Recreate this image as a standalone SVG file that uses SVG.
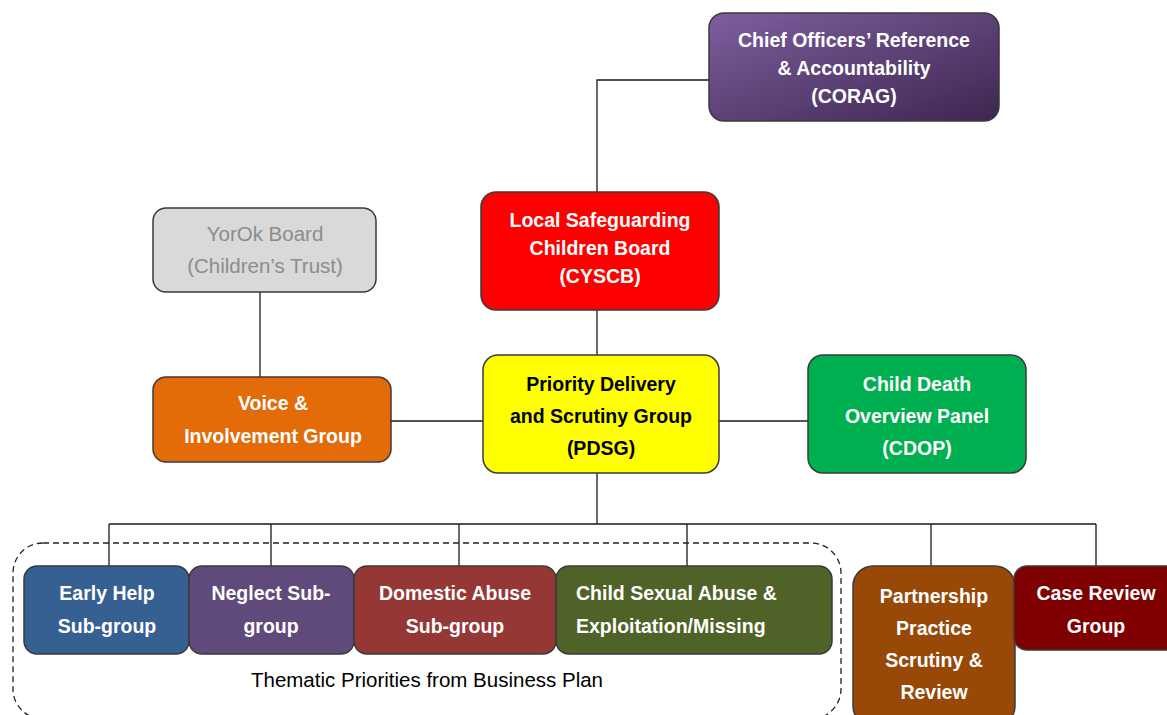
<svg xmlns="http://www.w3.org/2000/svg" width="1167" height="715" viewBox="0 0 1167 715">
<defs>
<linearGradient id="purp" x1="0" y1="0" x2="1" y2="1">
<stop offset="0" stop-color="#7d5f9e"/>
<stop offset="1" stop-color="#3d2650"/>
</linearGradient>
</defs>
<style>
.box{stroke:#3a3a3a;stroke-width:1.5}
.t{font-family:"Liberation Sans",Arial,sans-serif;font-weight:bold;font-size:19.5px;text-anchor:middle;fill:#fff}
.k{fill:#000}
.g{font-weight:normal;font-size:20.5px;fill:#8c8c8c}
.ln{stroke:#1a1a1a;stroke-width:1.3;fill:none}
</style>
<rect width="1167" height="715" fill="#fff"/>
<g id="connectors">
<path class="ln" d="M709 80 H597 V192"/>
<path class="ln" d="M597 310 V355"/>
<path class="ln" d="M260 292 V377"/>
<path class="ln" d="M391 421 H483"/>
<path class="ln" d="M719 421 H808" stroke="#777"/>
<path class="ln" d="M597 473 V524 M109 524 H1096 M109 524 V566 M271 524 V566 M459 524 V566 M687 524 V566 M931 524 V566 M1096 524 V566"/>
</g>
<rect x="13" y="543" width="828" height="176" rx="30" fill="none" stroke="#222" stroke-width="1.3" stroke-dasharray="6,4"/>
<g id="corag"><rect class="box" x="709" y="13" width="290" height="108" rx="15" fill="url(#purp)"/>
<text class="t" x="854" y="47">Chief Officers’ Reference</text><text class="t" x="854" y="75">&amp; Accountability</text><text class="t" x="854" y="103">(CORAG)</text></g>
<g id="cyscb"><rect class="box" x="481" y="192" width="238" height="118" rx="15" fill="#ff0000"/>
<text class="t" x="600" y="227">Local Safeguarding</text><text class="t" x="600" y="255">Children Board</text><text class="t" x="600" y="283">(CYSCB)</text></g>
<g id="yorok"><rect class="box" x="153" y="208" width="223" height="84" rx="13" fill="#d9d9d9" stroke="#555"/>
<text class="t g" x="265" y="241">YorOk Board</text><text class="t g" x="265" y="273">(Children’s Trust)</text></g>
<g id="voice"><rect class="box" x="153" y="377" width="238" height="85" rx="13" fill="#e36c09"/>
<text class="t" x="273" y="410">Voice &amp;</text><text class="t" x="273" y="443">Involvement Group</text></g>
<g id="pdsg"><rect class="box" x="483" y="355" width="236" height="118" rx="15" fill="#ffff00"/>
<text class="t k" x="601" y="391">Priority Delivery</text><text class="t k" x="601" y="423">and Scrutiny Group</text><text class="t k" x="601" y="455">(PDSG)</text></g>
<g id="cdop"><rect class="box" x="808" y="355" width="218" height="118" rx="15" fill="#00b050"/>
<text class="t" x="917" y="391">Child Death</text><text class="t" x="917" y="423">Overview Panel</text><text class="t" x="917" y="455">(CDOP)</text></g>
<g id="earlyhelp"><rect class="box" x="24" y="566" width="165" height="88" rx="13" fill="#366092"/>
<text class="t" x="107" y="600">Early Help</text><text class="t" x="107" y="633">Sub-group</text></g>
<g id="neglect"><rect class="box" x="189" y="566" width="165" height="88" rx="13" fill="#604a7b"/>
<text class="t" x="271" y="600">Neglect Sub-</text><text class="t" x="271" y="633">group</text></g>
<g id="domestic"><rect class="box" x="354" y="566" width="202" height="88" rx="13" fill="#953735"/>
<text class="t" x="455" y="600">Domestic Abuse</text><text class="t" x="455" y="633">Sub-group</text></g>
<g id="csa"><rect class="box" x="556" y="566" width="276" height="88" rx="13" fill="#4f6228"/>
<text class="t" x="576" y="600" style="text-anchor:start">Child Sexual Abuse &amp;</text><text class="t" x="576" y="633" style="text-anchor:start">Exploitation/Missing</text></g>
<g id="partnership"><rect class="box" x="853" y="566" width="162" height="160" rx="20" fill="#984807"/>
<text class="t" x="934" y="603">Partnership</text><text class="t" x="934" y="635">Practice</text><text class="t" x="934" y="667">Scrutiny &amp;</text><text class="t" x="934" y="699">Review</text></g>
<g id="casereview"><rect class="box" x="1014" y="566" width="170" height="84" rx="13" fill="#7f0000"/>
<text class="t" x="1096" y="600">Case Review</text><text class="t" x="1096" y="633">Group</text></g>
<text x="427" y="687" style="font-family:'Liberation Sans',Arial,sans-serif;font-size:20.5px;text-anchor:middle;fill:#000">Thematic Priorities from Business Plan</text>
</svg>
